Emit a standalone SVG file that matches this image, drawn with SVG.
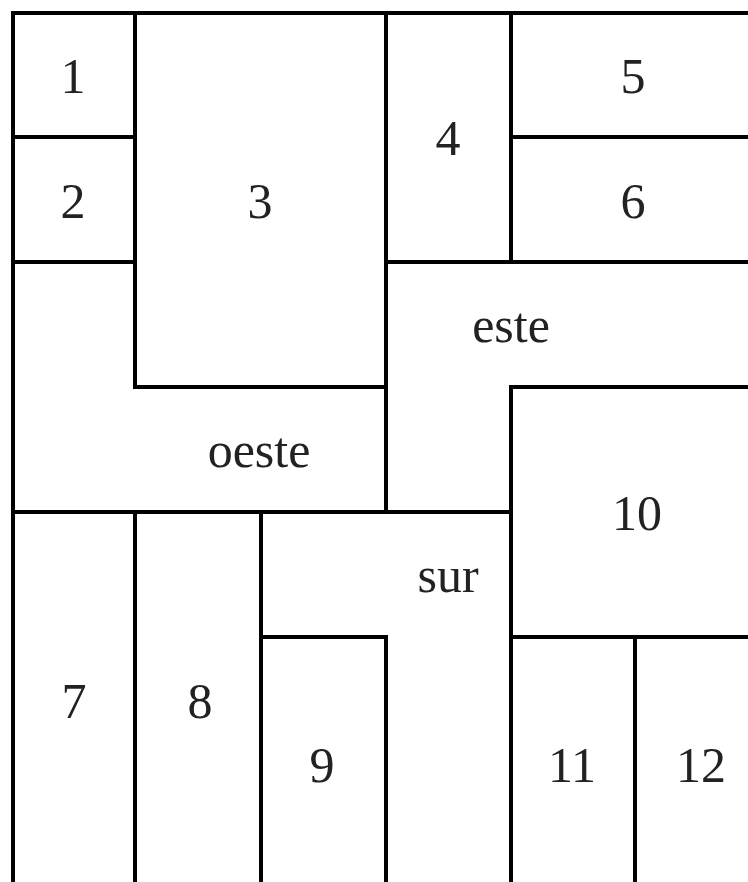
<svg xmlns="http://www.w3.org/2000/svg" width="748" height="882" viewBox="0 0 748 882">
<style>
.w{stroke:#000;stroke-width:4;fill:none;stroke-linecap:square}
.t{font-family:"Liberation Serif","Times New Roman",serif;font-size:50px;fill:#222;text-anchor:middle}
</style>
<rect width="748" height="882" fill="#fff"/>
<g id="walls">
<path class="w" d="M13,13H760 M13,13V890"/>
<path class="w" d="M135,13V387 M13,137H135 M13,262H135 M135,387H386"/>
<path class="w" d="M386,13V512 M511,13V262 M386,262H760 M511,137H760"/>
<path class="w" d="M511,387H760 M511,387V890 M13,512H511"/>
<path class="w" d="M135,512V890 M261,512V890 M261,637H386 M386,637V890"/>
<path class="w" d="M511,637H760 M635,637V890"/>
</g>
<g id="r1"><text class="t" x="73" y="93">1</text></g>
<g id="r2"><text class="t" x="73" y="218">2</text></g>
<g id="r3"><text class="t" x="260" y="218">3</text></g>
<g id="r4"><text class="t" x="448" y="155">4</text></g>
<g id="r5"><text class="t" x="633" y="93">5</text></g>
<g id="r6"><text class="t" x="633" y="218">6</text></g>
<g id="este"><text class="t" x="511" y="342">este</text></g>
<g id="oeste"><text class="t" x="259" y="467">oeste</text></g>
<g id="r10"><text class="t" x="637" y="530">10</text></g>
<g id="sur"><text class="t" x="448" y="592">sur</text></g>
<g id="r7"><text class="t" x="74" y="718">7</text></g>
<g id="r8"><text class="t" x="200" y="718">8</text></g>
<g id="r9"><text class="t" x="322" y="782">9</text></g>
<g id="r11"><text class="t" x="572" y="782">11</text></g>
<g id="r12"><text class="t" x="701" y="782">12</text></g>
</svg>
